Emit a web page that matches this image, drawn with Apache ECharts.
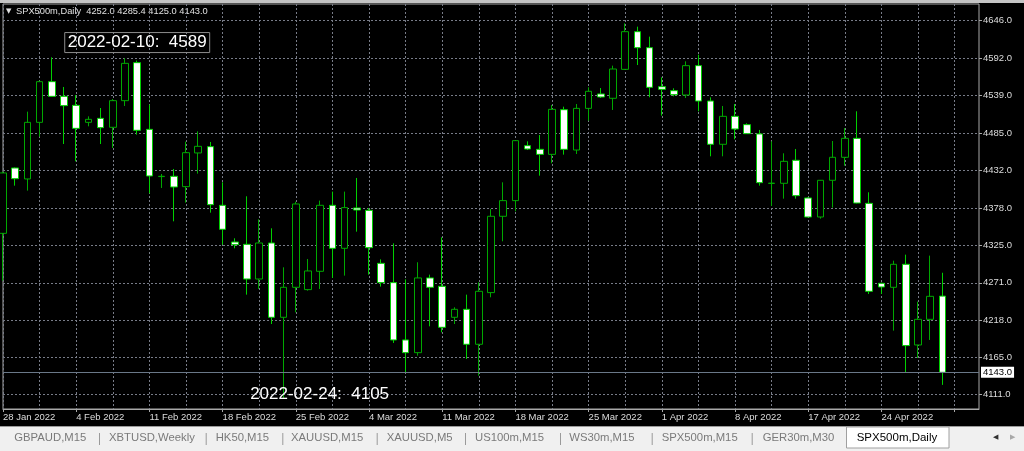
<!DOCTYPE html>
<html><head><meta charset="utf-8">
<script src="https://cdn.jsdelivr.net/npm/echarts@6/dist/echarts.min.js"></script>
<style>html,body{margin:0;padding:0;background:#000;overflow:hidden}#c{width:1024px;height:451px}</style>
</head><body><div id="c"></div>
<script>
// ---- data (daily bars, broker time incl. Sunday bars) ----
const dates = ['2022-01-28','2022-01-30','2022-01-31','2022-02-01','2022-02-02','2022-02-03','2022-02-04',
'2022-02-06','2022-02-07','2022-02-08','2022-02-09','2022-02-10','2022-02-11',
'2022-02-13','2022-02-14','2022-02-15','2022-02-16','2022-02-17','2022-02-18',
'2022-02-20','2022-02-21','2022-02-22','2022-02-23','2022-02-24','2022-02-25',
'2022-02-27','2022-02-28','2022-03-01','2022-03-02','2022-03-03','2022-03-04',
'2022-03-06','2022-03-07','2022-03-08','2022-03-09','2022-03-10','2022-03-11',
'2022-03-13','2022-03-14','2022-03-15','2022-03-16','2022-03-17','2022-03-18',
'2022-03-20','2022-03-21','2022-03-22','2022-03-23','2022-03-24','2022-03-25',
'2022-03-27','2022-03-28','2022-03-29','2022-03-30','2022-03-31','2022-04-01',
'2022-04-03','2022-04-04','2022-04-05','2022-04-06','2022-04-07','2022-04-08',
'2022-04-10','2022-04-11','2022-04-12','2022-04-13','2022-04-14',
'2022-04-17','2022-04-18','2022-04-19','2022-04-20','2022-04-21','2022-04-22',
'2022-04-24','2022-04-25','2022-04-26','2022-04-27','2022-04-28','2022-04-29'];
const opens = [4341.8,4435.3,4419.6,4500.6,4558.8,4537.8,4524.9,
4500.6,4506.3,4493.5,4531.6,4586.0,4490.6,
4423.0,4423.4,4408.6,4456.8,4465.8,4381.9,
4329.4,4326.1,4276.5,4328.0,4221.7,4264.6,
4261.3,4287.5,4381.9,4320.4,4378.1,4374.7,
4298.9,4271.3,4189.3,4171.1,4278.0,4266.0,
4221.7,4233.1,4183.1,4257.0,4366.2,4388.6,
4467.2,4462.0,4454.8,4518.7,4461.0,4520.6,
4541.2,4535.0,4576.4,4630.3,4607.4,4551.6,
4545.9,4539.7,4581.7,4531.1,4469.2,4509.2,
4497.3,4484.0,4413.2,4413.4,4446.3,
4392.4,4365.2,4417.7,4450.6,4477.7,4384.7,
4270.3,4264.6,4297.5,4182.1,4218.8,4252.0];
const closes = [4428.2,4420.0,4500.6,4558.8,4537.8,4524.5,4492.0,
4504.9,4493.0,4531.6,4585.0,4489.2,4423.9,
4423.4,4408.1,4457.2,4466.3,4382.8,4347.6,
4325.6,4276.5,4328.0,4221.7,4264.6,4383.8,
4288.0,4381.9,4320.4,4378.6,4375.2,4321.3,
4271.3,4189.3,4171.1,4278.0,4264.6,4207.4,
4233.1,4183.1,4258.9,4366.2,4388.6,4474.4,
4462.5,4454.8,4519.2,4462.0,4520.6,4545.0,
4536.9,4576.9,4630.3,4607.4,4550.7,4547.8,
4540.2,4581.7,4531.1,4469.2,4509.2,4491.1,
4484.4,4414.3,4413.6,4444.8,4395.7,
4365.2,4417.7,4450.6,4477.7,4385.2,4258.9,
4265.1,4297.5,4181.2,4218.8,4251.7,4143.0];
const lows = [4274.1,4410.0,4402.9,4480.1,4537.0,4469.6,4444.8,
4494.9,4469.6,4463.9,4524.0,4483.0,4399.1,
4406.7,4359.0,4385.7,4427.2,4371.4,4325.6,
4320.4,4254.1,4262.2,4212.1,4105.0,4228.8,
4259.8,4262.2,4278.0,4281.3,4344.2,4282.7,
4265.6,4185.0,4142.0,4166.8,4208.8,4200.2,
4212.1,4162.1,4138.2,4250.3,4330.4,4373.3,
4461.0,4424.3,4442.0,4454.4,4455.3,4503.0,
4535.4,4518.3,4575.5,4582.6,4536.4,4510.2,
4537.8,4535.4,4516.4,4452.0,4452.0,4476.3,
4484.0,4410.0,4380.9,4391.4,4391.4,
4364.7,4362.8,4378.6,4438.6,4384.7,4255.0,
4255.1,4202.6,4143.0,4163.5,4189.3,4125.0];
const highs = [4430.0,4436.0,4515.9,4560.0,4593.6,4551.2,4539.7,
4509.2,4521.1,4534.0,4592.2,4589.0,4525.9,
4426.7,4433.9,4473.0,4487.7,4472.5,4414.8,
4334.7,4394.8,4361.9,4349.0,4293.2,4387.1,
4305.1,4388.6,4401.5,4401.5,4421.0,4378.0,
4304.6,4327.5,4276.0,4300.4,4282.7,4336.1,
4236.0,4254.1,4271.7,4376.6,4414.8,4475.3,
4473.4,4482.5,4525.4,4523.0,4526.8,4550.7,
4549.7,4581.7,4642.2,4637.5,4623.2,4565.0,
4549.3,4587.9,4597.4,4536.4,4524.0,4526.8,
4499.2,4489.7,4473.4,4456.3,4462.5,
4393.3,4418.1,4473.9,4492.5,4516.4,4400.5,
4271.3,4302.7,4311.3,4244.1,4309.9,4285.4];
const shiftSlots = [' ', '  ', '   '];           // empty right-hand chart shift
const yTicks = [4111, 4165, 4218, 4271, 4325, 4378, 4432, 4485, 4539, 4592, 4646];
const lastPrice = 4143.0;
const header = 'SPX500m,Daily  4252.0 4285.4 4125.0 4143.0';
const annotations = [
  {date: '2022-02-10', price: 4589},
  {date: '2022-02-24', price: 4105}
];
const tabs = ['GBPAUD,M15','XBTUSD,Weekly','HK50,M15','XAUUSD,M15','XAUUSD,M5','US100m,M15','WS30m,M15','SPX500m,M15','GER30m,M30'];
const activeTab = 'SPX500m,Daily';
const months = ['Jan','Feb','Mar','Apr','May','Jun','Jul','Aug','Sep','Oct','Nov','Dec'];

// ---- build ----
const candles = dates.map((d, i) => [opens[i], closes[i], lows[i], highs[i]]);
const FONT = 'Liberation Sans';
const gridColor = '#787c88';
const frameColor = '#a8a8a8';

const annStyles = [
  {offset: [0, -18], borderColor: '#8c8c8c', borderWidth: 1, padding: [2, 3, 1, 3]},
  {offset: [36, -5], borderWidth: 0, padding: 0}
];

const tabX = [14.3, 109, 215.7, 291, 386.7, 475, 569.3, 661.7, 762.7];
const sepX = [99, 205.7, 282.3, 376.7, 465, 560, 651.7, 751.7];
const graphic = [
  {type: 'rect', shape: {x: 0, y: 0, width: 1024, height: 3}, style: {fill: '#c4c4c4'}, silent: true},
  {type: 'text', x: 6, y: 11, style: {text: '▼', fontSize: 7, fill: '#e0e0e0', fontFamily: 'DejaVu Sans', verticalAlign: 'middle'}},
  {type: 'text', x: 16, y: 11.5, style: {text: header, fontSize: 9.3, fill: '#e0e0e0', fontFamily: FONT, verticalAlign: 'middle'}},
  {type: 'rect', shape: {x: 0, y: 427, width: 1024, height: 24}, style: {fill: '#f0f0f0'}, silent: true},
  {type: 'rect', shape: {x: 0, y: 426, width: 1024, height: 1}, style: {fill: '#9a9a9a'}, silent: true},
  {type: 'rect', shape: {x: 846.5, y: 427, width: 102.5, height: 21}, style: {fill: '#ffffff', stroke: '#a0a0a0', lineWidth: 1}, silent: true},
  {type: 'text', x: 856.7, y: 438, style: {text: activeTab, fontSize: 11.5, fill: '#000', fontFamily: FONT, verticalAlign: 'middle'}},
  {type: 'text', x: 993, y: 437.5, style: {text: '◀', fontSize: 7, fill: '#303030', fontFamily: 'DejaVu Sans', verticalAlign: 'middle'}},
  {type: 'text', x: 1010, y: 437.5, style: {text: '▶', fontSize: 7, fill: '#a8a8a8', fontFamily: 'DejaVu Sans', verticalAlign: 'middle'}}
];
tabs.forEach((t, i) => graphic.push({type: 'text', x: tabX[i], y: 438, style: {text: t, fontSize: 11.3, fill: '#7a7a7a', fontFamily: FONT, verticalAlign: 'middle'}}));
sepX.forEach(x => graphic.push({type: 'rect', shape: {x: x, y: 433, width: 1, height: 12}, style: {fill: '#9a9a9a'}, silent: true}));

const option = {
  backgroundColor: '#000',
  animation: false,
  textStyle: {fontFamily: FONT},
  grid: {left: 2, right: 45, top: 4, bottom: 42, show: true, borderColor: frameColor, borderWidth: 1},
  xAxis: {
    type: 'category',
    data: dates.concat(shiftSlots),
    boundaryGap: false,
    axisLine: {show: true, lineStyle: {color: frameColor}},
    axisTick: {show: true, interval: 5, length: 3, lineStyle: {color: frameColor}},
    axisLabel: {
      interval: 5, align: 'left', margin: 3, color: '#dcdcdc', fontSize: 9.5,
      formatter: v => {
        if (!v.trim()) return '';
        const p = v.split('-');
        return (+p[2]) + ' ' + months[+p[1] - 1] + ' ' + p[0];
      }
    },
    splitLine: {show: true, interval: 2, lineStyle: {color: gridColor, type: [2, 2], width: 1}}
  },
  yAxis: {
    type: 'value', position: 'right', min: 4090.5, max: 4669.9,
    axisLine: {show: false},
    axisTick: {show: true, length: 3, customValues: yTicks, lineStyle: {color: frameColor}},
    axisLabel: {customValues: yTicks, margin: 4, color: '#dcdcdc', fontSize: 9.5, formatter: v => Number(v).toFixed(1)},
    splitLine: {show: true, lineStyle: {color: gridColor, type: [2, 2], width: 1}}
  },
  series: [{
    type: 'candlestick',
    data: candles,
    barWidth: 7,
    clip: true,
    itemStyle: {
      color: '#000000', color0: '#ffffff',
      borderColor: '#00a800', borderColor0: '#00d000', borderColorDoji: '#00c000',
      borderWidth: 1
    },
    markLine: {
      symbol: 'none', silent: true, animation: false,
      data: [{yAxis: lastPrice}],
      lineStyle: {color: '#6a7888', type: 'solid', width: 1},
      label: {position: 'end', distance: 2, backgroundColor: '#ffffff', color: '#000', fontSize: 9.5,
        padding: [1, 2, 0, 2], formatter: lastPrice.toFixed(1)}
    },
    markPoint: {
      symbol: 'rect', symbolSize: 1, silent: true, animation: false,
      itemStyle: {color: 'rgba(0,0,0,0)'},
      data: annotations.map((a, i) => ({
        coord: [a.date, a.price],
        label: Object.assign({
          show: true, position: 'inside', color: '#ffffff', fontSize: 17, fontFamily: FONT,
          formatter: a.date + ':  ' + a.price
        }, annStyles[i])
      }))
    }
  }],
  graphic: graphic
};
const chart = echarts.init(document.getElementById('c'), null, {renderer: 'canvas'});
chart.setOption(option);
</script></body></html>
